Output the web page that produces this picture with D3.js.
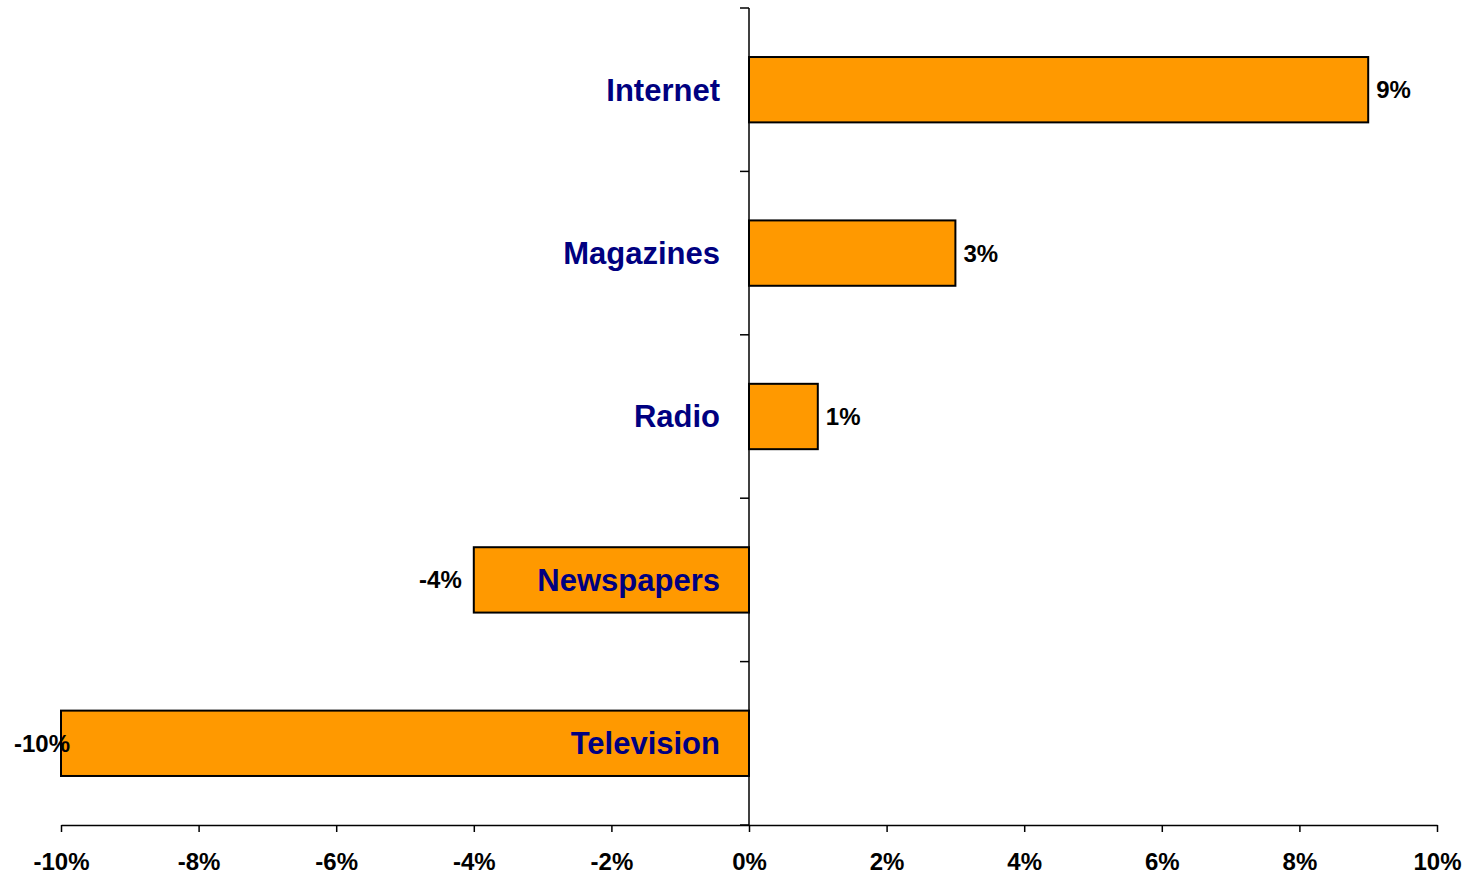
<!DOCTYPE html>
<html>
<head>
<meta charset="utf-8">
<script src="https://cdn.jsdelivr.net/npm/d3@7"></script>
<style>
  html, body { margin: 0; padding: 0; background: #fff; }
  svg { display: block; font-family: "Liberation Sans", Arial, sans-serif; }
</style>
</head>
<body>
<svg id="chart" width="1464" height="874"></svg>
<script>
// Change in share by medium
const categories = ["Internet", "Magazines", "Radio", "Newspapers", "Television"];
const values = [0.09, 0.03, 0.01, -0.04, -0.10];
const tickValues = [-0.10, -0.08, -0.06, -0.04, -0.02, 0, 0.02, 0.04, 0.06, 0.08, 0.10];

(function () {
  const svg = d3.select("#chart");
  const plotLeft = 61, plotRight = 1437, plotTop = 8, plotBottom = 825;

  const x = d3.scaleLinear().domain([-0.10, 0.10]).range([plotLeft, plotRight]);
  const y = d3.scaleBand().domain(categories).range([plotTop, plotBottom])
    .paddingInner(0.6).paddingOuter(0.3);
  // Percent labels with a plain hyphen for negatives
  const pct = d3.formatLocale({ decimal: ".", thousands: ",", grouping: [3], currency: ["", ""], minus: "-" }).format(".0%");

  // Bars
  svg.append("g").selectAll("rect")
    .data(categories)
    .join("rect")
    .attr("x", (d, i) => Math.min(x(0), x(values[i])))
    .attr("y", d => y(d))
    .attr("width", (d, i) => Math.abs(x(values[i]) - x(0)))
    .attr("height", y.bandwidth())
    .attr("fill", "#FF9900")
    .attr("stroke", "#000")
    .attr("stroke-width", 2);

  // Horizontal axis
  const xAxis = svg.append("g")
    .attr("transform", `translate(0,${plotBottom})`)
    .call(d3.axisBottom(x).tickValues(tickValues).tickFormat(pct).tickSize(7).tickSizeOuter(0));
  xAxis.select(".domain").attr("stroke", "#000").attr("stroke-width", 1.5);
  xAxis.selectAll(".tick line").attr("stroke", "#000").attr("stroke-width", 1.5);
  xAxis.selectAll(".tick text")
    .attr("y", 28)
    .attr("dy", "0.71em")
    .attr("fill", "#000")
    .attr("font-family", "Liberation Sans, Arial, sans-serif")
    .style("font-size", "24px")
    .style("font-weight", "bold");

  // Vertical axis at zero, with ticks between categories
  const boundaryY = [plotTop].concat(categories.map(c => y(c) + y.bandwidth() + y.step() * y.paddingInner() / 2));
  boundaryY[categories.length] = plotBottom;
  const yAxis = svg.append("g");
  yAxis.append("line")
    .attr("x1", x(0)).attr("x2", x(0))
    .attr("y1", plotTop).attr("y2", plotBottom)
    .attr("stroke", "#000").attr("stroke-width", 1.5);
  yAxis.selectAll("line.tick")
    .data(boundaryY)
    .join("line")
    .attr("class", "tick")
    .attr("x1", x(0) - 9).attr("x2", x(0))
    .attr("y1", d => d).attr("y2", d => d)
    .attr("stroke", "#000").attr("stroke-width", 1.5);

  // Category names
  svg.append("g").selectAll("text")
    .data(categories)
    .join("text")
    .attr("x", x(0) - 29)
    .attr("y", d => y(d) + y.bandwidth() / 2)
    .attr("dy", "0.35em")
    .attr("text-anchor", "end")
    .attr("fill", "#000080")
    .style("font-size", "31px")
    .style("font-weight", "bold")
    .text(d => d);

  // Value labels
  const labels = svg.append("g").selectAll("text")
    .data(categories)
    .join("text")
    .attr("y", d => y(d) + y.bandwidth() / 2)
    .attr("dy", "0.35em")
    .attr("fill", "#000")
    .style("font-size", "24px")
    .style("font-weight", "bold")
    .text((d, i) => pct(values[i]));

  labels.each(function (d, i) {
    const v = values[i];
    const w = this.getComputedTextLength();
    let lx;
    if (v >= 0) {
      lx = x(v) + 8;
    } else {
      lx = x(v) - 12 - w;
      if (lx < 14) lx = 14;
    }
    d3.select(this).attr("x", lx);
  });
})();
</script>
</body>
</html>
